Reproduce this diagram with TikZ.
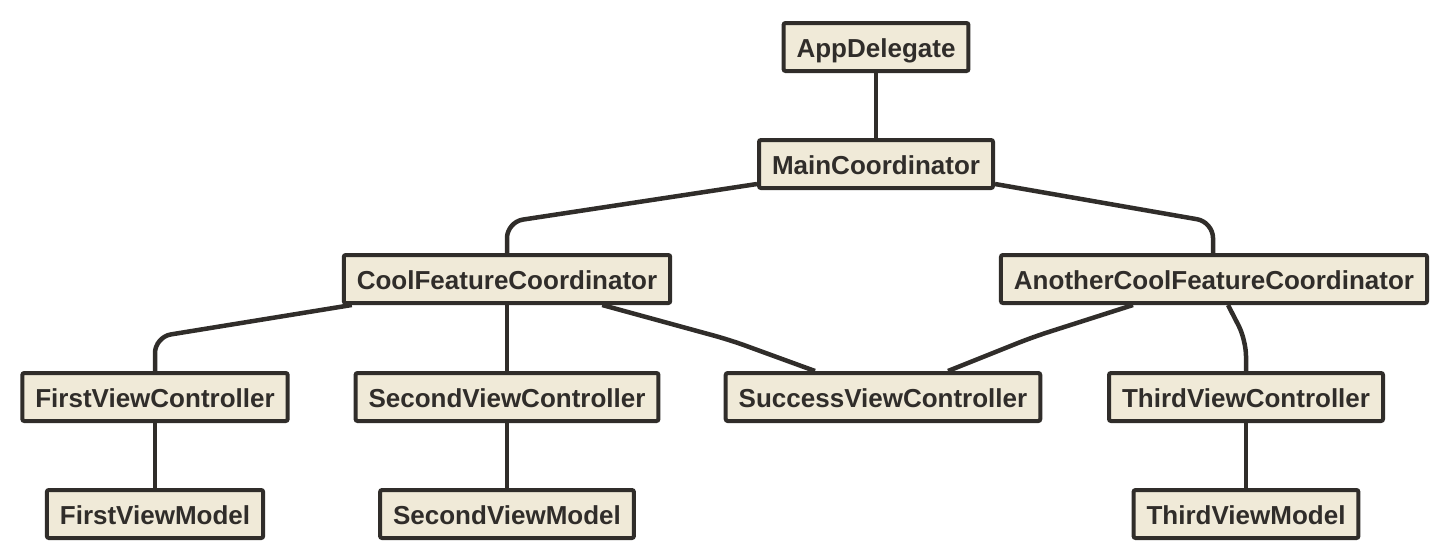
\documentclass[tikz,border=0pt]{standalone}
\usepackage{fontspec}
\setmainfont{Liberation Sans}
\usepackage{xcolor}
\usepackage{tikz}
\usetikzlibrary{positioning}

\definecolor{boxfill}{HTML}{F0EAD8}
\definecolor{ink}{HTML}{302D2A}

\begin{document}
\begin{tikzpicture}[
      x=1pt, y=-1pt,
      box/.style={rectangle, rounded corners=2pt, draw=ink, line width=4pt,
                  fill=boxfill, text=ink, inner xsep=13pt,
                  minimum height=48pt, text height=22pt, text depth=2pt,
                  font=\fontsize{26}{30}\selectfont\bfseries},
      link/.style={draw=ink, line width=4.5pt, rounded corners=16pt},
      node distance=65pt
    ]
    \useasboundingbox (0,0) rectangle (1448,558);

    \node[box] (app) at (876,47) {AppDelegate};
    \node[box, below=of app] (main) {MainCoordinator};
    \node[box] (cool) at (507,279) {CoolFeatureCoordinator};
    \node[box] (another) at (1214,279) {AnotherCoolFeatureCoordinator};
    \node[box] (fvc) at (155,397) {FirstViewController};
    \node[box] (svc) at (507,397) {SecondViewController};
    \node[box] (success) at (883,397) {SuccessViewController};
    \node[box] (tvc) at (1246,397) {ThirdViewController};
    \node[box, below=of fvc] (fvm) {FirstViewModel};
    \node[box, below=of svc] (svm) {SecondViewModel};
    \node[box, below=of tvc] (tvm) {ThirdViewModel};

    \draw[link] (app) -- (main);
    \draw[link] ([yshift=6pt]main.south west) -- (507,222) -- (cool.north);
    \draw[link] ([yshift=6pt]main.south east) -- (1213,222) -- ([xshift=-1pt]another.north);
    \draw[link] ([xshift=10pt]cool.south west) -- (155,337) -- (fvc.north);
    \draw[link] (cool) -- (svc);
    \draw[link] ([xshift=-70pt]cool.south east) -- (730,340) -- ([xshift=-68pt]success.north);
    \draw[link] ([xshift=-81pt]another.south) -- (1033,337) -- ([xshift=65pt]success.north);
    \draw[link] ([xshift=14pt]another.south) -- (1246,340) -- (tvc.north);
    \draw[link] (fvc) -- (fvm);
    \draw[link] (svc) -- (svm);
    \draw[link] (tvc) -- (tvm);
  \end{tikzpicture}
\end{document}
